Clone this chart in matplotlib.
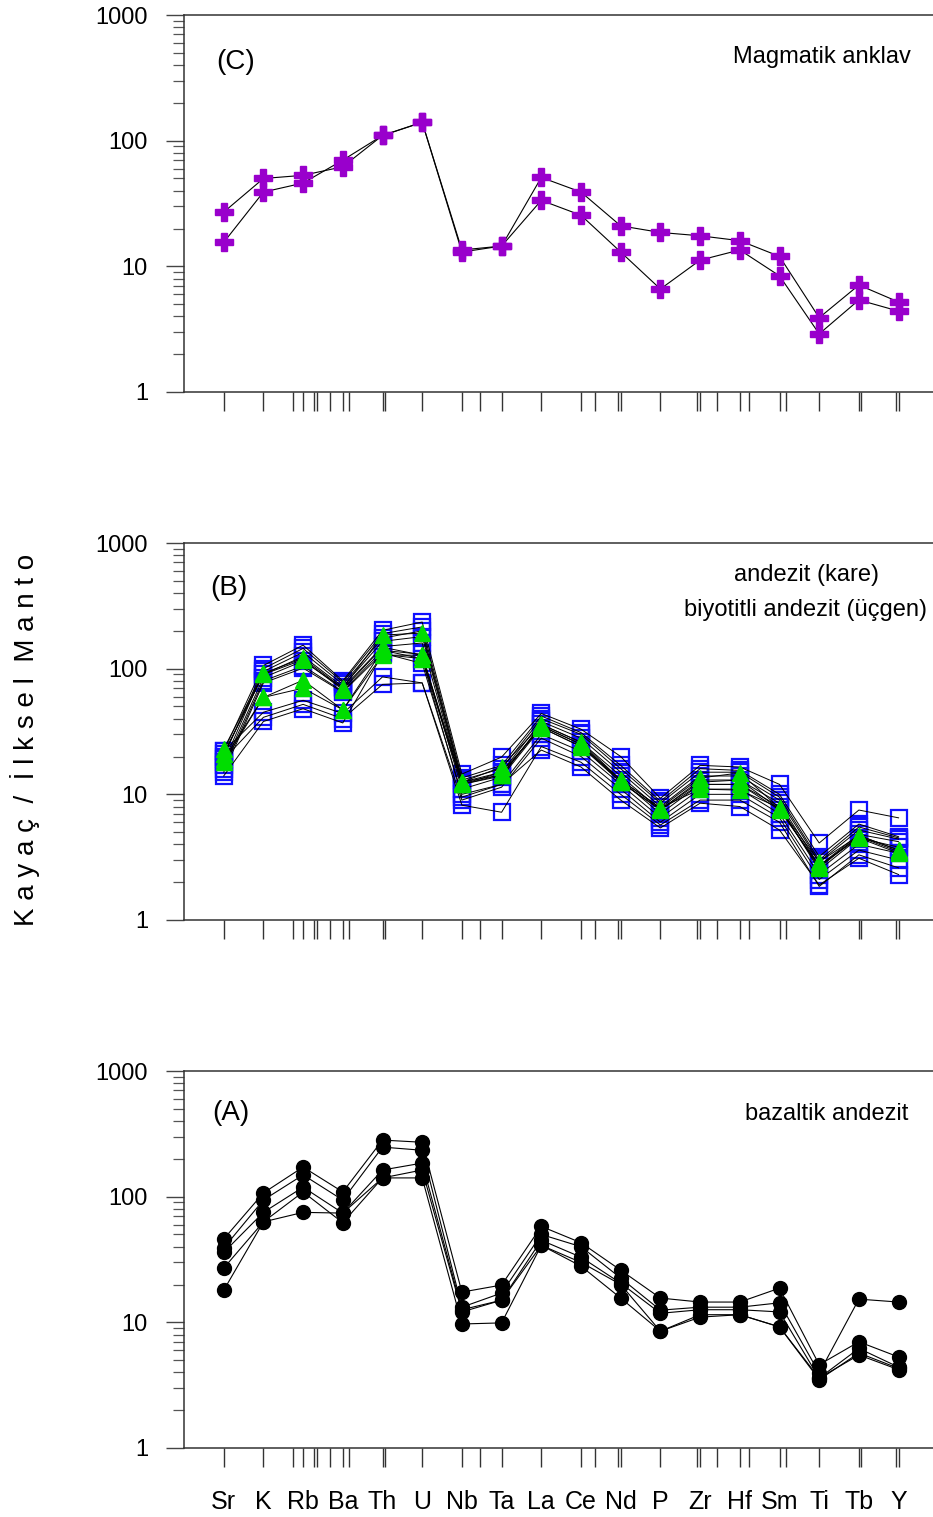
import numpy as np
import matplotlib
matplotlib.use('Agg')
import matplotlib.pyplot as plt
from matplotlib.ticker import FixedLocator, NullFormatter, FixedFormatter

plt.rcParams['font.family'] = ['Liberation Sans', 'DejaVu Sans']

elements = ['Sr', 'K', 'Rb', 'Ba', 'Th', 'U', 'Nb', 'Ta', 'La', 'Ce', 'Nd', 'P',
            'Zr', 'Hf', 'Sm', 'Ti', 'Tb', 'Y']
extra_ticks = [1.75, 2.27, 2.36, 2.67, 3.15, 4.07, 6.45, 9.36, 9.92, 11.93,
               12.43, 13.22, 14.16, 16.06, 16.94]

# Panel C - Magmatik anklav
enclave_1 = [27, 50, 53, 62, 110, 140, 13.5, 14.5, 51, 39, 21, 18.6, 17.5, 16, 12, 3.9, 7.1, 5.2]
enclave_2 = [15.5, 39, 46, 70, 110, 140, 13, 14.5, 33.5, 25.5, 13, 6.6, 11.2, 13.5, 8.4, 2.9, 5.4, 4.4]

# Panel B - andezit (kare)
andesite_1 = [22, 106, 154, 80, 202, 235, 14.5, 19.8, 44, 33, 20, 9.3, 17, 16.5, 12, 4.1, 7.5, 6.5]
andesite_2 = [20, 100, 145, 78, 190, 215, 13.5, 17, 42, 31, 17, 8.8, 16, 15.5, 10, 3.2, 5.8, 4.6]
andesite_3 = [18, 95, 135, 75, 175, 200, 13, 16, 40, 30, 16, 8.5, 15, 15, 9.5, 3.0, 5.5, 4.5]
andesite_4 = [21, 90, 125, 72, 165, 180, 12.5, 15, 38, 28, 15, 8, 14, 14, 9, 2.9, 5.2, 4.4]
andesite_5 = [17, 85, 115, 70, 150, 160, 12, 14, 36, 26, 14, 7.5, 13, 13, 8.5, 2.7, 4.8, 4.2]
andesite_6 = [16, 80, 105, 66, 140, 130, 11, 13.7, 34, 24, 13, 7, 12, 12, 8, 2.5, 4.5, 3.8]
andesite_7 = [15, 77, 101, 65, 133, 110, 10, 12, 30, 22, 12, 6.5, 11, 11, 7, 2.3, 4.0, 3.4]
andesite_8 = [22, 45, 56, 44, 86, 77, 9, 11.4, 28, 20, 11, 6, 10, 10, 6.5, 2.1, 3.6, 3.0]
andesite_9 = [19, 41, 52, 40, 75, 77, 8.2, 7.2, 24, 18, 10, 5.7, 9, 9, 6, 1.85, 3.3, 2.6]
andesite_10 = [14, 38, 48, 37, 130, 120, 9.5, 12, 22.5, 16.5, 9, 5.4, 8.5, 8, 5.2, 1.9, 3.1, 2.3]

# Panel B - biyotitli andezit (üçgen)
bt_andesite_1 = [23, 92, 121, 70, 185, 192, 12.5, 16.5, 36, 26, 13, 7.8, 13.5, 14.8, 7.8, 2.9, 4.7, 3.6]
bt_andesite_2 = [21, 90, 118, 68, 148, 128, 12.5, 14.3, 35, 25, 13, 7.8, 11, 10.8, 7.8, 2.6, 4.7, 3.6]
bt_andesite_3 = [19, 59, 81, 47, 128, 128, 12, 14.3, 35, 25, 12.5, 7.5, 12, 12, 7.5, 2.7, 4.6, 3.5]
bt_andesite_4 = [18, 59, 70, 47, 140, 120, 12, 15, 34, 24, 12.5, 7.6, 12.5, 13, 7.6, 2.7, 4.5, 3.4]

# Panel A - bazaltik andezit
basalt_1 = [46, 107, 172, 109, 282, 271, 17.4, 19.8, 58, 43, 26, 15.6, 14.5, 14.5, 18.7, 4.6, 7.0, 5.3]
basalt_2 = [39, 94, 149, 94, 248, 234, 13.2, 17.1, 50, 40, 22.5, 12.5, 13.2, 13.2, 14.3, 3.95, 15.3, 14.5]
basalt_3 = [36, 75, 119, 74, 163, 185, 12.6, 15, 45, 33, 20.5, 11.8, 12.6, 12.6, 12.1, 3.6, 6.2, 4.4]
basalt_4 = [27, 63, 109, 62, 141, 163, 12.1, 15, 41, 30, 20, 8.5, 11.5, 11.5, 9.2, 3.6, 5.5, 4.2]
basalt_5 = [18, 63, 75, 74, 141, 141, 9.7, 9.9, 41, 28, 15.6, 8.5, 11, 11.5, 9.2, 3.5, 5.7, 4.3]

enclave = [enclave_1, enclave_2]
andesite = [andesite_1, andesite_2, andesite_3, andesite_4, andesite_5,
            andesite_6, andesite_7, andesite_8, andesite_9, andesite_10]
bt_andesite = [bt_andesite_1, bt_andesite_2, bt_andesite_3, bt_andesite_4]
basalt = [basalt_1, basalt_2, basalt_3, basalt_4, basalt_5]

W, H = 933, 1517
fig = plt.figure(figsize=(W / 100, H / 100), dpi=100)

x = np.arange(len(elements))
LEFT = 184
PX_PER_UNIT = 39.7
XMIN, XMAX = -1.0, 18.0


def make_axes(top_px, bottom_px):
    ax = fig.add_axes([LEFT / W, 1 - bottom_px / H,
                       (XMAX - XMIN) * PX_PER_UNIT / W, (bottom_px - top_px) / H])
    ax.set_yscale('log')
    ax.set_ylim(1, 1000)
    ax.set_xlim(XMIN, XMAX)
    ax.spines['right'].set_visible(False)
    for s in ['left', 'top', 'bottom']:
        ax.spines[s].set_color('#333333')
        ax.spines[s].set_linewidth(1.1)
    ax.yaxis.set_major_locator(FixedLocator([1, 10, 100, 1000]))
    ax.yaxis.set_major_formatter(FixedFormatter(['1', '10', '100', '1000']))
    minors = [m * 10 ** d for d in range(3) for m in range(2, 10)]
    ax.yaxis.set_minor_locator(FixedLocator(minors))
    ax.yaxis.set_minor_formatter(NullFormatter())
    ax.tick_params(axis='y', which='major', direction='out', length=13, width=1.0,
                   color='#444444', labelsize=17, pad=13)
    ax.tick_params(axis='y', which='minor', direction='out', length=8, width=0.9,
                   color='#555555')
    ax.xaxis.set_major_locator(FixedLocator(list(x)))
    ax.xaxis.set_minor_locator(FixedLocator(extra_ticks))
    ax.tick_params(axis='x', which='both', direction='out', length=14, width=1.0,
                   color='#333333')
    ax.tick_params(axis='x', which='major', labelsize=18, pad=16)
    ax.set_xticklabels([])
    return ax


def px(xp, yp):
    return xp / W, 1 - yp / H


# Panel C
axC = make_axes(15, 392)
for s in enclave:
    axC.plot(x, s, color='black', lw=0.8, zorder=2)
    axC.plot(x, s, ls='none', marker='P', ms=13, color='#9900cc',
             mec='#9900cc', zorder=3)
fig.text(*px(216, 62), '(C)', fontsize=20, ha='left', va='center')
fig.text(*px(911, 57), 'Magmatik anklav', fontsize=17, ha='right', va='center')

# Panel B
axB = make_axes(543, 920)
for s in andesite:
    axB.plot(x, s, color='black', lw=0.7, zorder=3)
    axB.plot(x, s, ls='none', marker='s', ms=11.5, mfc='none', mec='#1010ff',
             mew=1.6, zorder=2)
for s in bt_andesite:
    axB.plot(x, s, color='black', lw=0.7, zorder=4)
    axB.plot(x, s, ls='none', marker='^', ms=12, color='#00dd00', mec='#00dd00',
             zorder=5)
fig.text(*px(210, 588), '(B)', fontsize=20, ha='left', va='center')
fig.text(*px(806, 575), 'andezit (kare)', fontsize=17, ha='center', va='center')
fig.text(*px(806, 610), 'biyotitli andezit (üçgen)', fontsize=17, ha='center', va='center')

# Panel A
axA = make_axes(1071, 1448)
for s in basalt:
    axA.plot(x, s, color='black', lw=0.8, marker='o', ms=10, mfc='black',
             mec='black', zorder=3)
axA.set_xticklabels(elements, fontsize=18)
fig.text(*px(212, 1113), '(A)', fontsize=20, ha='left', va='center')
fig.text(*px(908, 1114), 'bazaltik andezit', fontsize=17, ha='right', va='center')

# Y label
fig.text(*px(25, 740), 'K a y a ç  /  İ l k s e l  M a n t o', fontsize=20,
         rotation=90, ha='center', va='center')

fig.savefig('out.png', dpi=100)
